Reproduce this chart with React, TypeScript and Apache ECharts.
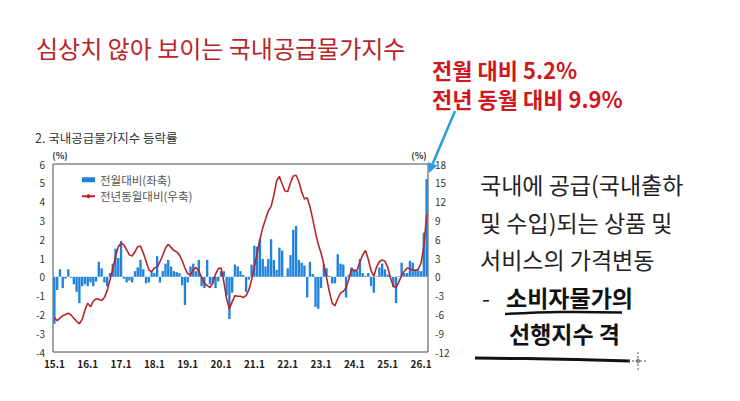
import React, { useEffect, useRef } from 'react';
import * as echarts from 'echarts';

// ---- Data ----
const START_YEAR = 2015;
const MONTH_COUNT = 135; // 2015.1 ~ 2026.3
const categories: string[] = Array.from({ length: MONTH_COUNT }, (_, i) =>
  `${(START_YEAR + Math.floor(i / 12)) % 100}.${(i % 12) + 1}`
);

// 전월대비 (%), left axis
const momChange: number[] = [
  -2.5, -0.7, 0.4, -0.6, -0.1, 0.4, -0.05, -0.4, -0.8, -1.4, -0.5, -0.4,
  -0.5, -0.3, -0.5, -0.25, 0.8, 0.45, -0.3, -0.5, 0.2, 0.7, 1.5, 1.0,
  1.9, -0.1, -0.3, -0.2, -0.3, 0.3, 0.5, 0.9, 0.4, -0.35, -0.3, 0.25,
  0.2, 1.1, -0.3, 0.3, 0.7, 0.9, 0.55, 0.3, 0.25, 0.2, -0.45, -1.5,
  -0.3, 0.55, 0.7, 0.3, 0.9, -0.5, -0.6, 0.9, -0.4, -0.35, -0.6, -0.25,
  0.3, 0.3, -1.0, -2.25, -0.85, 0.65, 0.55, 0.3, 0.1, -0.8, -0.15, 0.65,
  1.65, 1.6, 2.0, 0.95, 0.55, 0.95, 2.0, 0.9, 0.37, 1.55, 1.4, 0.03,
  0.45, 1.15, 2.5, 2.7, 0.9, 0.75, 0.6, -1.1, 0.8, 0.15, -1.6, -1.7,
  -0.6, 0.65, 0.45, 0.05, -0.35, -0.35, 1.2, 0.7, 0.65, -1.1, 0.1, 0.5,
  0.4, 0.3, 0.95, 0.2, 0.05, 0.2, -0.5, -0.85, 0.03, 0.5, 0.7, 0.4,
  0.12, 0.05, -0.55, -1.4, 0.03, 0.75, 0.2, 0.2, 0.85, 0.75, 0.4, 0.35, 0.3, 2.35, 5.2,
];

// 전년동월대비 (%), right axis
const yoyChange: number[] = [
  -6.5, -7.0, -6.6, -6.2, -6.0, -5.8, -6.1, -6.6, -7.1, -7.5, -6.8, -5.3,
  -4.2, -4.8, -3.9, -3.5, -3.6, -3.8, -3.3, -2.2, -0.5, 1.2, 3.2, 4.8,
  5.4, 5.1, 4.3, 3.5, 3.3, 4.0, 4.8, 4.9, 3.8, 2.5, 1.1, 0.8,
  1.4, 1.6, 2.4, 3.4, 4.6, 5.2, 4.7, 4.2, 4.0, 3.5, 2.6, 1.4,
  0.5, 0.3, 1.1, 1.5, 0.9, -0.1, -1.0, -1.4, -1.7, -1.0, 0.4, 1.3,
  1.4, -0.8, -3.5, -5.1, -4.0, -3.0, -3.1, -3.1, -3.3, -3.0, -2.1, -0.5,
  1.6, 3.8, 6.0, 7.8, 9.2, 10.5, 11.2, 13.0, 15.3, 16.0, 14.8, 13.7,
  13.6, 15.0, 16.1, 16.2, 15.2, 13.6, 12.4, 12.6, 11.2, 9.2, 7.0, 5.2,
  3.8, 2.0, -0.2, -2.4, -4.2, -4.6, -3.5, -2.6, -2.3, -1.8, -0.4, 1.3,
  0.9, 1.1, 2.4, 3.5, 4.2, 2.8, 1.0, 0.1, 1.6, 2.4, 2.7, 2.5,
  1.5, -0.2, -1.5, -1.7, -0.8, 0.2, 0.9, 1.4, 1.3, 1.1, 1.0, 1.2, 2.2, 4.8, 9.9,
];

const leftAxisRange = [-4, 6];
const rightAxisRange = [-12, 18];

const seriesNames = ['전월대비(좌축)', '전년동월대비(우축)'];
const headline = '심상치 않아 보이는 국내공급물가지수';
const calloutLines = ['전월 대비 5.2%', '전년 동월 대비 9.9%'];
const chartTitle = '2. 국내공급물가지수 등락률';
const noteLines = ['국내에 공급(국내출하', '및 수입)되는 상품 및', '서비스의 가격변동'];
const emphasisLines = ['소비자물가의', '선행지수 격'];

const FONT = '"Noto Sans CJK KR", "Noto Sans", sans-serif';

function txt(text: string, x: number, y: number, font: string, fill: string, align = 'left') {
  return {
    type: 'text',
    x,
    y,
    style: { text, font, fill, align, verticalAlign: 'middle', textAlign: align, textVerticalAlign: 'middle' },
  };
}

export default function App() {
  const ref = useRef<HTMLDivElement>(null);

  useEffect(() => {
    if (!ref.current) return;
    const chart = echarts.init(ref.current, undefined, { renderer: 'svg' });

    const option: any = {
      animation: false,
      backgroundColor: '#ffffff',
      textStyle: { fontFamily: FONT },
      grid: {
        left: 53,
        right: 312,
        top: 164,
        bottom: 49,
        show: true,
        borderColor: '#4a4a4a',
        borderWidth: 1,
        backgroundColor: 'transparent',
      },
      legend: {
        orient: 'vertical',
        left: 76,
        top: 169,
        itemWidth: 13,
        itemHeight: 5,
        itemGap: 5,
        textStyle: { fontSize: 11.5, color: '#555', fontFamily: FONT },
        data: [{ name: seriesNames[0], icon: 'rect' }, { name: seriesNames[1] }],
      },
      xAxis: {
        type: 'category',
        data: categories,
        boundaryGap: true,
        axisLine: { show: false },
        axisTick: { show: false },
        splitLine: { show: false },
        axisLabel: {
          interval: (idx: number) => idx % 12 === 0,
          color: '#222',
          fontSize: 10,
          fontWeight: 'bold',
          margin: 6,
          fontFamily: FONT,
        },
      },
      yAxis: [
        {
          type: 'value',
          min: leftAxisRange[0],
          max: leftAxisRange[1],
          interval: 1,
          axisLine: { show: false },
          axisTick: { show: false },
          splitLine: { show: false },
          axisLabel: { color: '#333', fontSize: 10, margin: 8, fontFamily: FONT },
        },
        {
          type: 'value',
          min: rightAxisRange[0],
          max: rightAxisRange[1],
          interval: 3,
          position: 'right',
          axisLine: { show: false },
          axisTick: { show: false },
          splitLine: { show: false },
          axisLabel: { color: '#333', fontSize: 10, margin: 7, fontFamily: FONT },
        },
      ],
      series: [
        {
          name: seriesNames[0],
          type: 'bar',
          yAxisIndex: 0,
          data: momChange,
          barCategoryGap: '15%',
          itemStyle: { color: '#1f82dc' },
        },
        {
          name: seriesNames[1],
          type: 'line',
          yAxisIndex: 1,
          data: yoyChange,
          symbol: 'none',
          lineStyle: { color: '#b3262c', width: 1.6 },
          itemStyle: { color: '#b3262c' },
        },
      ],
      graphic: [
        txt(headline, 36, 47, `400 24px ${FONT}`, '#b8242b'),
        txt(calloutLines[0], 432, 69, `bold 22px ${FONT}`, '#d3151c'),
        txt(calloutLines[1], 432, 97.5, `bold 22px ${FONT}`, '#d3151c'),
        txt(chartTitle, 35, 137, `400 12.5px ${FONT}`, '#333'),
        txt('(%)', 60, 155, `bold 9px ${FONT}`, '#333', 'center'),
        txt('(%)', 419, 155, `bold 9px ${FONT}`, '#333', 'center'),
        txt(noteLines[0], 480, 184, `400 23px ${FONT}`, '#222'),
        txt(noteLines[1], 480, 222, `400 23px ${FONT}`, '#222'),
        txt(noteLines[2], 480, 259, `400 23px ${FONT}`, '#222'),
        txt('-', 482, 297, `400 23px ${FONT}`, '#222'),
        txt(emphasisLines[0], 506, 297, `bold 23px ${FONT}`, '#111'),
        txt(emphasisLines[1], 509, 333, `bold 23px ${FONT}`, '#111'),
        {
          type: 'line',
          shape: { x1: 455, y1: 111, x2: 432.7, y2: 163.7 },
          style: { stroke: '#2b9be0', lineWidth: 2.5 },
        },
        {
          type: 'polygon',
          shape: { points: [[429, 173], [437.3, 165.6], [428.1, 161.9]] },
          style: { fill: '#2b9be0' },
        },
        {
          type: 'polyline',
          shape: { points: [[505, 314], [560, 312], [622, 312.5]], smooth: 0.4 },
          style: { stroke: '#111', lineWidth: 2.5, fill: 'none' },
        },
        {
          type: 'polyline',
          shape: { points: [[475, 358], [550, 359], [630, 361]], smooth: 0.4 },
          style: { stroke: '#111', lineWidth: 3, fill: 'none' },
        },
        {
          type: 'line',
          shape: { x1: 638, y1: 352, x2: 638, y2: 370 },
          style: { stroke: '#555', lineWidth: 1, lineDash: [2, 2] },
        },
        {
          type: 'line',
          shape: { x1: 628, y1: 361, x2: 648, y2: 361 },
          style: { stroke: '#555', lineWidth: 1, lineDash: [2, 2] },
        },
        {
          type: 'circle',
          shape: { cx: 638, cy: 361, r: 1.8 },
          style: { stroke: '#555', lineWidth: 1, fill: 'none' },
        },
      ],
    };

    chart.setOption(option);
    return () => chart.dispose();
  }, []);

  return (
    <div
      ref={ref}
      style={{ position: 'fixed', left: 0, top: 0, width: 740, height: 401, background: '#fff' }}
    />
  );
}
